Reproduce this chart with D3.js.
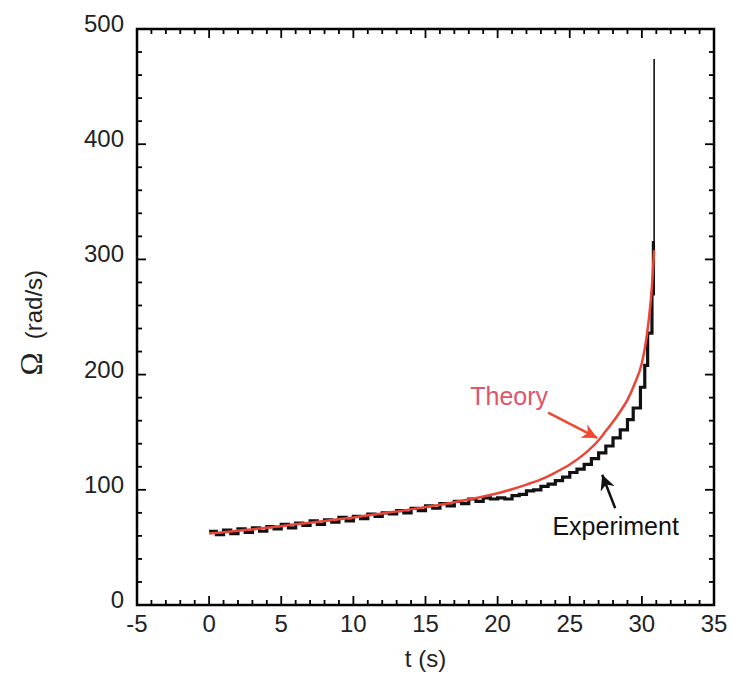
<!DOCTYPE html>
<html>
<head>
<meta charset="utf-8">
<script src="https://cdn.jsdelivr.net/npm/d3@7"></script>
<style>
  body { margin: 0; background: #fff; }
  text { font-family: "Liberation Sans", Arial, sans-serif; }
</style>
</head>
<body>
<div id="chart"></div>
<script>
// theory curve (t in s, omega in rad/s)
const theoryT = [0, 2, 4, 6, 8, 10, 12, 14, 16, 18, 20, 21, 22, 23, 24, 25, 26, 27, 27.5, 28, 28.5, 29, 29.5, 30, 30.3, 30.5, 30.7, 30.85]
const theoryW = [62, 64.5, 67, 70, 73, 76, 79.5, 83, 87, 91.5, 97, 100.5, 104.5, 109, 115, 122, 131, 143, 151, 159, 168, 178, 192, 210, 230, 250, 277, 308]

// experiment (step data)
const expT = [0, 0.5, 1, 1.5, 2, 2.5, 3, 3.5, 4, 4.5, 5, 5.5, 6, 6.5, 7, 7.5, 8, 8.5, 9, 9.5,
  10, 10.5, 11, 11.5, 12, 12.5, 13, 13.5, 14, 14.5, 15, 15.5, 16, 16.5, 17, 17.5, 18, 18.5, 19, 19.5,
  20, 20.5, 21, 21.5, 22, 22.5, 23, 23.5, 24, 24.5, 25, 25.5, 26, 26.5, 27, 27.5, 28, 28.5, 29,
  29.4, 29.9, 30.2, 30.4, 30.7, 30.8, 30.85]
const expW = [64, 61, 65, 62, 66, 63, 67, 64, 68, 66, 70, 67, 71, 69, 73, 70, 74, 72, 76, 73,
  77, 75, 79, 77, 80, 79, 82, 80, 84, 82, 86, 84, 88, 86, 90, 88, 92, 90, 93, 92,
  93, 92, 95, 96, 99, 100, 103, 105, 108, 111, 115, 118, 122, 127, 132, 138, 145, 152, 161,
  171, 189, 208, 236, 270, 316, 474]

const xTicks = [-5, 0, 5, 10, 15, 20, 25, 30, 35]
const yTicks = [0, 100, 200, 300, 400, 500]

const width = 732
const height = 674
const margin = { left: 137, right: 18, top: 29, bottom: 69 }

const svg = d3.select("#chart").append("svg")
  .attr("width", width)
  .attr("height", height)

const x = d3.scaleLinear().domain([-5, 35]).range([margin.left, width - margin.right])
const y = d3.scaleLinear().domain([0, 500]).range([height - margin.bottom, margin.top])

const x0 = x.range()[0], x1 = x.range()[1]
const y0 = y.range()[0], y1 = y.range()[1]

// inward ticks on all four sides
const ticks = svg.append("g").attr("stroke", "#000").attr("stroke-width", 1.8)
d3.range(-5, 35.01, 1).forEach(t => {
  const len = t % 5 === 0 ? 9 : 5
  ticks.append("line").attr("x1", x(t)).attr("x2", x(t)).attr("y1", y0).attr("y2", y0 - len)
  ticks.append("line").attr("x1", x(t)).attr("x2", x(t)).attr("y1", y1).attr("y2", y1 + len)
})
d3.range(0, 500.01, 20).forEach(v => {
  const len = v % 100 === 0 ? 9 : 5
  ticks.append("line").attr("x1", x0).attr("x2", x0 + len).attr("y1", y(v)).attr("y2", y(v))
  ticks.append("line").attr("x1", x1).attr("x2", x1 - len).attr("y1", y(v)).attr("y2", y(v))
})

svg.append("rect")
  .attr("x", x0).attr("y", y1)
  .attr("width", x1 - x0).attr("height", y0 - y1)
  .attr("fill", "none").attr("stroke", "#000").attr("stroke-width", 2.5)

// tick labels
svg.append("g").selectAll("text").data(xTicks).enter().append("text")
  .attr("x", d => x(d)).attr("y", y0 + 27)
  .attr("text-anchor", "middle").attr("font-size", 24).attr("fill", "#222")
  .text(d => d)

svg.append("g").selectAll("text").data(yTicks).enter().append("text")
  .attr("x", x0 - 13).attr("y", d => y(d) + 3)
  .attr("text-anchor", "end").attr("font-size", 24).attr("fill", "#222")
  .text(d => d)

// axis titles
svg.append("text")
  .attr("x", (x0 + x1) / 2).attr("y", 667)
  .attr("text-anchor", "middle").attr("font-size", 24).attr("fill", "#222")
  .text("t (s)")

const yTitle = svg.append("text")
  .attr("transform", "translate(42," + (y(245)) + ") rotate(-90)")
  .attr("text-anchor", "middle").attr("font-size", 24).attr("fill", "#222")
yTitle.append("tspan").attr("font-family", "'Liberation Serif', 'DejaVu Serif', serif")
  .attr("font-size", 31).text("\u03A9")
yTitle.append("tspan").text("\u00A0 (rad/s)")

// experiment: stepped body, then the thin final spike
const expData = expT.map((t, i) => [t, expW[i]])
const expLine = d3.line().x(d => x(d[0])).y(d => y(d[1])).curve(d3.curveStepAfter)
const spikeFrom = expData.length - 2

svg.append("path")
  .datum(expData.slice(0, spikeFrom + 1))
  .attr("fill", "none").attr("stroke", "#111").attr("stroke-width", 3.2)
  .attr("d", expLine)

svg.append("path")
  .datum(expData.slice(spikeFrom))
  .attr("fill", "none").attr("stroke", "#111").attr("stroke-width", 1.6)
  .attr("d", expLine)

// theory
const theoryData = theoryT.map((t, i) => [t, theoryW[i]])
svg.append("path")
  .datum(theoryData)
  .attr("fill", "none").attr("stroke", "#ea4538").attr("stroke-width", 2.5)
  .attr("d", d3.line().x(d => x(d[0])).y(d => y(d[1])).curve(d3.curveMonotoneX))

// annotations
const defs = svg.append("defs")
function marker(id, color) {
  defs.append("marker").attr("id", id)
    .attr("viewBox", "0 0 10 10").attr("refX", 10).attr("refY", 5)
    .attr("markerWidth", 6).attr("markerHeight", 6)
    .attr("markerUnits", "strokeWidth").attr("orient", "auto")
    .append("path").attr("d", "M0,0 L10,5 L0,10 L3,5 Z").attr("fill", color)
}
marker("arrowRed", "#f0472e")
marker("arrowBlack", "#111")

svg.append("line")
  .attr("x1", x(23.5)).attr("y1", y(167))
  .attr("x2", x(26.9)).attr("y2", y(145))
  .attr("stroke", "#f0472e").attr("stroke-width", 2.5)
  .attr("marker-end", "url(#arrowRed)")

svg.append("line")
  .attr("x1", x(28.15)).attr("y1", y(84))
  .attr("x2", x(27.25)).attr("y2", y(113))
  .attr("stroke", "#111").attr("stroke-width", 2.5)
  .attr("marker-end", "url(#arrowBlack)")

svg.append("text")
  .attr("x", x(18.1)).attr("y", y(174))
  .attr("font-size", 25).attr("fill", "#e0546a")
  .text("Theory")

svg.append("text")
  .attr("x", x(23.8)).attr("y", y(61))
  .attr("font-size", 25).attr("fill", "#111")
  .text("Experiment")
</script>
</body>
</html>
